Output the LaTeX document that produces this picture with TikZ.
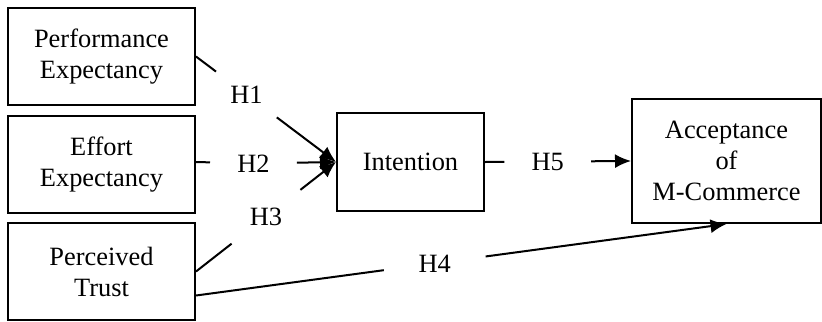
\documentclass[tikz,border=0pt]{standalone}
\usepackage{fontspec}
\setmainfont{Liberation Serif}
\usetikzlibrary{arrows.meta,calc}
\begin{document}
\begin{tikzpicture}[x=0.5pt,y=-0.5pt,
		font=\fontsize{13.2}{15.5}\selectfont,
		box/.style={draw,line width=1pt,align=center,inner sep=0pt},
		hyp/.style={inner sep=0pt},
		link/.style={line width=1pt,-{Latex[length=8pt,width=7pt]}}]
		\useasboundingbox (0,0) rectangle (822,321);
		
		% Constructs
		\node[box,minimum width=93.5pt,minimum height=48.5pt] (pe) at (101.5,56.5) {Performance\\Expectancy};
		\node[box,minimum width=93.5pt,minimum height=48.5pt] (ee) at (101.5,164.5) {Effort\\Expectancy};
		\node[box,minimum width=93.5pt,minimum height=48.5pt] (pt) at (101.5,271.5) {Perceived\\Trust};
		\node[box,minimum width=73.5pt,minimum height=49pt] (int) at (410.5,162) {Intention};
		\node[box,minimum width=94.5pt,minimum height=62pt] (acc) at (726.5,161) {Acceptance\\of\\M-Commerce};
		
		% Hypotheses
		\node[hyp,minimum width=30pt,minimum height=24pt] (h1) at ($(pe.east)!0.36!(int.west)$) {H1};
		\node[hyp,minimum width=43pt,minimum height=12pt] (h2) at ($(ee.east)!0.41!(int.west)$) {H2};
		\node[hyp,minimum width=35pt,minimum height=26.5pt] (h3) at ($(pt.east)!0.5!(int.west)$) {H3};
		\coordinate (t4) at ([yshift=-12pt]pt.east);
		\node[hyp,minimum width=50.5pt,minimum height=12pt] (h4) at ($(t4)!0.45!(acc.south)$) {H4};
		\node[hyp,minimum width=43pt,minimum height=12pt] (h5) at ($(int.east)!0.43!(acc.west)$) {H5};
		
		% Paths
		\draw[link] (pe.east) -- (h1) -- (int.west);
		\draw[link] (ee.east |- int.west) -- (h2) -- (int.west);
		\draw[link] (pt.east) -- (h3) -- (int.west);
		\draw[link] (t4) -- (h4) -- (acc.south);
		\draw[link] (int.east) -- (h5) -- (acc.west);
	\end{tikzpicture}
\end{document}
